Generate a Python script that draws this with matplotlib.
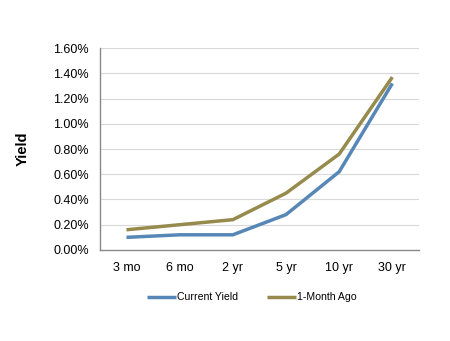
import matplotlib
matplotlib.use("Agg")
import matplotlib.pyplot as plt
from matplotlib.ticker import FuncFormatter

plt.rcParams['font.family'] = ['Liberation Sans', 'DejaVu Sans']

categories = ["3 mo", "6 mo", "2 yr", "5 yr", "10 yr", "30 yr"]
current_yield = [0.10, 0.12, 0.12, 0.28, 0.62, 1.32]
month_ago = [0.16, 0.20, 0.24, 0.45, 0.76, 1.37]
series_names = ["Current Yield", "1-Month Ago"]
yticks = [0.0, 0.2, 0.4, 0.6, 0.8, 1.0, 1.2, 1.4, 1.6]

fig = plt.figure(figsize=(4.5, 3.41), dpi=100)
ax = fig.add_axes([0.222, 0.267, 0.709, 0.592])

x = list(range(len(categories)))
ax.plot(x, current_yield, color="#5687B6", lw=2.5, label=series_names[0], solid_capstyle='butt')
ax.plot(x, month_ago, color="#968A4C", lw=2.5, label=series_names[1], solid_capstyle='butt')

ax.set_xlim(-0.5, len(categories) - 0.5)
ax.set_ylim(0, 1.6)
ax.set_yticks(yticks)
ax.yaxis.set_major_formatter(FuncFormatter(lambda v, p: f"{v:.2f}%"))
ax.set_xticks(x)
ax.set_xticklabels(categories)
ax.tick_params(axis='both', length=0, labelsize=9, colors='black')
ax.tick_params(axis='x', pad=9)
ax.tick_params(axis='y', pad=8)
ax.grid(axis='y', color='#D9D9D9', lw=0.8)
ax.set_axisbelow(True)
for s in ['top', 'right']:
    ax.spines[s].set_visible(False)
for s in ['left', 'bottom']:
    ax.spines[s].set_color('#898989')
    ax.spines[s].set_linewidth(1)

fig.text(0.051, 0.563, "Yield", rotation=90, fontsize=10.5, fontweight='bold', ha='center', va='center')

fig.legend(loc='center', bbox_to_anchor=(0.56, 0.128), ncol=2, frameon=False,
           fontsize=7.6, handlelength=2.7, handletextpad=0.1, columnspacing=2.8)

fig.savefig("out.png", dpi=100)
